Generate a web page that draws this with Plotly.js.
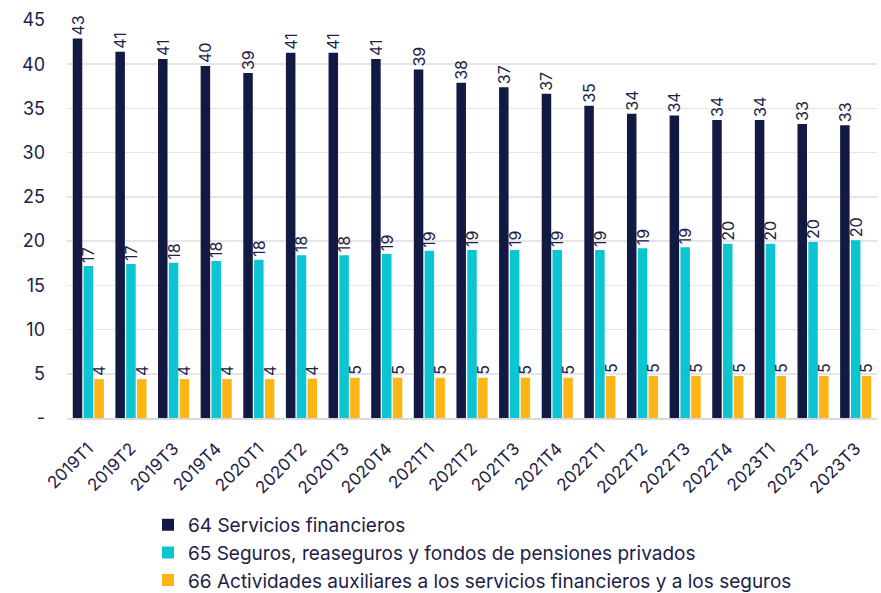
<!DOCTYPE html>
<html>
<head>
<meta charset="utf-8">
<script src="https://cdn.plot.ly/plotly-3.0.1.min.js"></script>
<style>html,body{margin:0;padding:0;background:#fff;}#chart{width:881px;height:593px;}</style>
</head>
<body>
<div id="chart"></div>
<script>
const categories = ["2019T1","2019T2","2019T3","2019T4","2020T1","2020T2","2020T3","2020T4","2021T1","2021T2","2021T3","2021T4","2022T1","2022T2","2022T3","2022T4","2023T1","2023T2","2023T3"];
const servicios = [42.9,41.4,40.6,39.8,39.0,41.3,41.3,40.6,39.4,37.9,37.4,36.65,35.3,34.4,34.2,33.7,33.7,33.25,33.1];
const seguros = [17.2,17.4,17.55,17.75,17.9,18.4,18.4,18.55,18.9,19.0,19.0,19.0,19.0,19.2,19.3,19.7,19.7,19.9,20.1];
const auxiliares = [4.4,4.4,4.4,4.4,4.4,4.45,4.55,4.55,4.55,4.55,4.55,4.55,4.75,4.75,4.75,4.75,4.75,4.75,4.75];
const names = ["64 Servicios financieros","65 Seguros, reaseguros y fondos de pensiones privados","66 Actividades auxiliares a los servicios financieros y a los seguros"];
const colors = ["#121a44","#0bc6d2","#fdb515"];
const yTickVals = [0,5,10,15,20,25,30,35,40,45];
const yTickText = ["-","5","10","15","20","25","30","35","40","45"];

const textColor = "#1c2148";
const series = [servicios, seguros, auxiliares];
const traces = series.map((vals, i) => ({
  type: "bar",
  x: categories,
  y: vals,
  name: names[i],
  marker: {color: colors[i]},
  texttemplate: "%{y:.0f}",
  textposition: "outside",
  textangle: -90,
  constraintext: "none",
  cliponaxis: false,
  textfont: {family: "Inter, 'Open Sans', sans-serif", size: 16, color: textColor},
  hoverinfo: "x+y+name"
}));

const layout = {
  width: 881, height: 593,
  margin: {l: 67, r: 4, t: 20, b: 175, autoexpand: false},
  paper_bgcolor: "#fff", plot_bgcolor: "#fff",
  barmode: "group",
  bargap: 0.24,
  bargroupgap: 0.12,
  font: {family: "Inter, 'Open Sans', sans-serif", color: textColor, size: 15},
  xaxis: {
    type: "category",
    tickangle: -45,
    automargin: false,
    tickfont: {size: 17, color: textColor},
    showline: true, linecolor: "#d9d9d9", linewidth: 2,
    ticks: "", showgrid: false,
    ticklabelstandoff: 12
  },
  yaxis: {
    range: [0, 45],
    automargin: false,
    tickvals: yTickVals, ticktext: yTickText,
    tickfont: {size: 18, color: textColor},
    showgrid: true, gridcolor: "#e5e5e5", gridwidth: 1.5,
    zeroline: false, ticks: "", ticklen: 0,
    ticklabelstandoff: 21
  },
  showlegend: true,
  legend: {
    orientation: "v",
    xref: "container", yref: "container",
    x: 0.168, xanchor: "left",
    y: 0.147, yanchor: "top",
    font: {size: 19, color: textColor},
    traceorder: "normal",
    tracegroupgap: 0,
    itemwidth: 30
  }
};

Plotly.newPlot("chart", traces, layout, {displayModeBar: false, staticPlot: true});
</script>
</body>
</html>
